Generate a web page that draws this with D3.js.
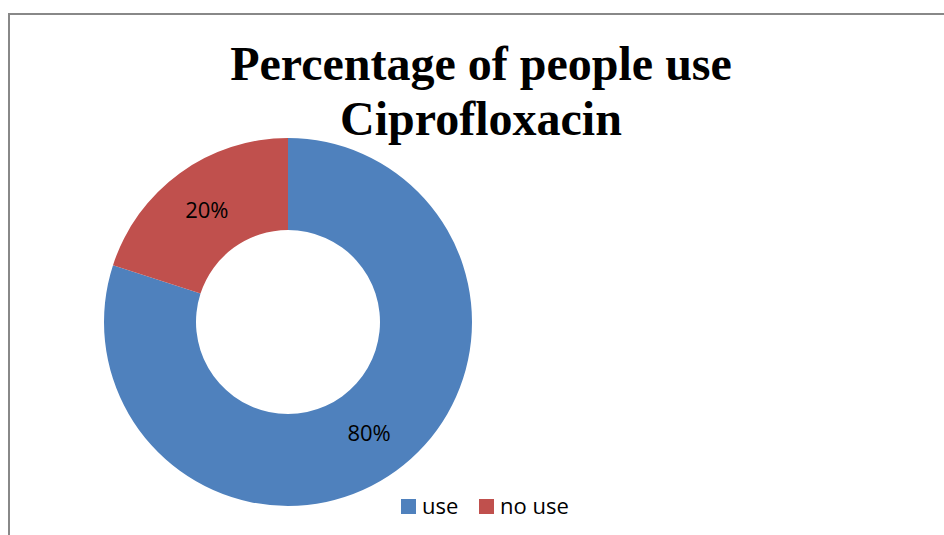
<!DOCTYPE html>
<html>
<head>
<script src="https://d3js.org/d3.v7.min.js"></script>
<style>
  body { margin: 0; background: #fff; }
  svg { display: block; }
</style>
</head>
<body>
<svg id="chart" width="944" height="535"></svg>
<script>
// datos del grafico
const categories = ["use", "no use"];
const values = [80, 20];
const colors = ["#4f81bd", "#c0504d"];
const titleLines = ["Percentage of people use", "Ciprofloxacin"];

const svg = d3.select("#chart");

// marco gris (solo arriba e izquierda se ven)
svg.append("path")
  .attr("d", "M9,535 V14 H944")
  .attr("fill", "none")
  .attr("stroke", "#888")
  .attr("stroke-width", 2);

// titulo
svg.append("text")
  .attr("x", 481).attr("y", 80)
  .attr("text-anchor", "middle")
  .style("font-family", "'Liberation Serif', 'Times New Roman', serif")
  .style("font-weight", "bold")
  .style("font-size", "48px")
  .selectAll("tspan")
  .data(titleLines).join("tspan")
    .attr("x", 481)
    .attr("dy", (d, i) => i == 0 ? 0 : 55)
    .text(d => d);

const cx = 288, cy = 322, rOut = 184, rIn = 92;
const pie = d3.pie().sort(null).value(d => d);
const arc = d3.arc().innerRadius(rIn).outerRadius(rOut);
const color = d3.scaleOrdinal(categories, colors);

const g = svg.append("g").attr("transform", `translate(${cx},${cy})`);
const arcs = pie(values);

g.selectAll("path")
  .data(arcs).join("path")
    .attr("d", arc)
    .attr("fill", (d, i) => color(categories[i]));

const total = d3.sum(values);
g.selectAll("text")
  .data(arcs).join("text")
    .attr("transform", d => `translate(${arc.centroid(d)})`)
    .attr("text-anchor", "middle")
    .attr("dy", "0.35em")
    .style("font-family", "'Open Sans', 'Noto Sans', sans-serif")
    .style("font-size", "22px")
    .text(d => Math.round(d.data / total * 100) + "%");

// leyenda
const legend = svg.append("g").attr("transform", "translate(401,499)");
const offsets = [0, 78];
const items = legend.selectAll("g")
  .data(categories).join("g")
    .attr("transform", (d, i) => `translate(${offsets[i]},0)`);
items.append("rect")
  .attr("width", 15).attr("height", 15)
  .attr("fill", d => color(d));
items.append("text")
  .attr("x", 21).attr("y", 7)
  .attr("dy", "0.35em")
  .style("font-family", "'Open Sans', 'Noto Sans', sans-serif")
  .style("font-size", "22px")
  .text(d => d);
</script>
</body>
</html>
